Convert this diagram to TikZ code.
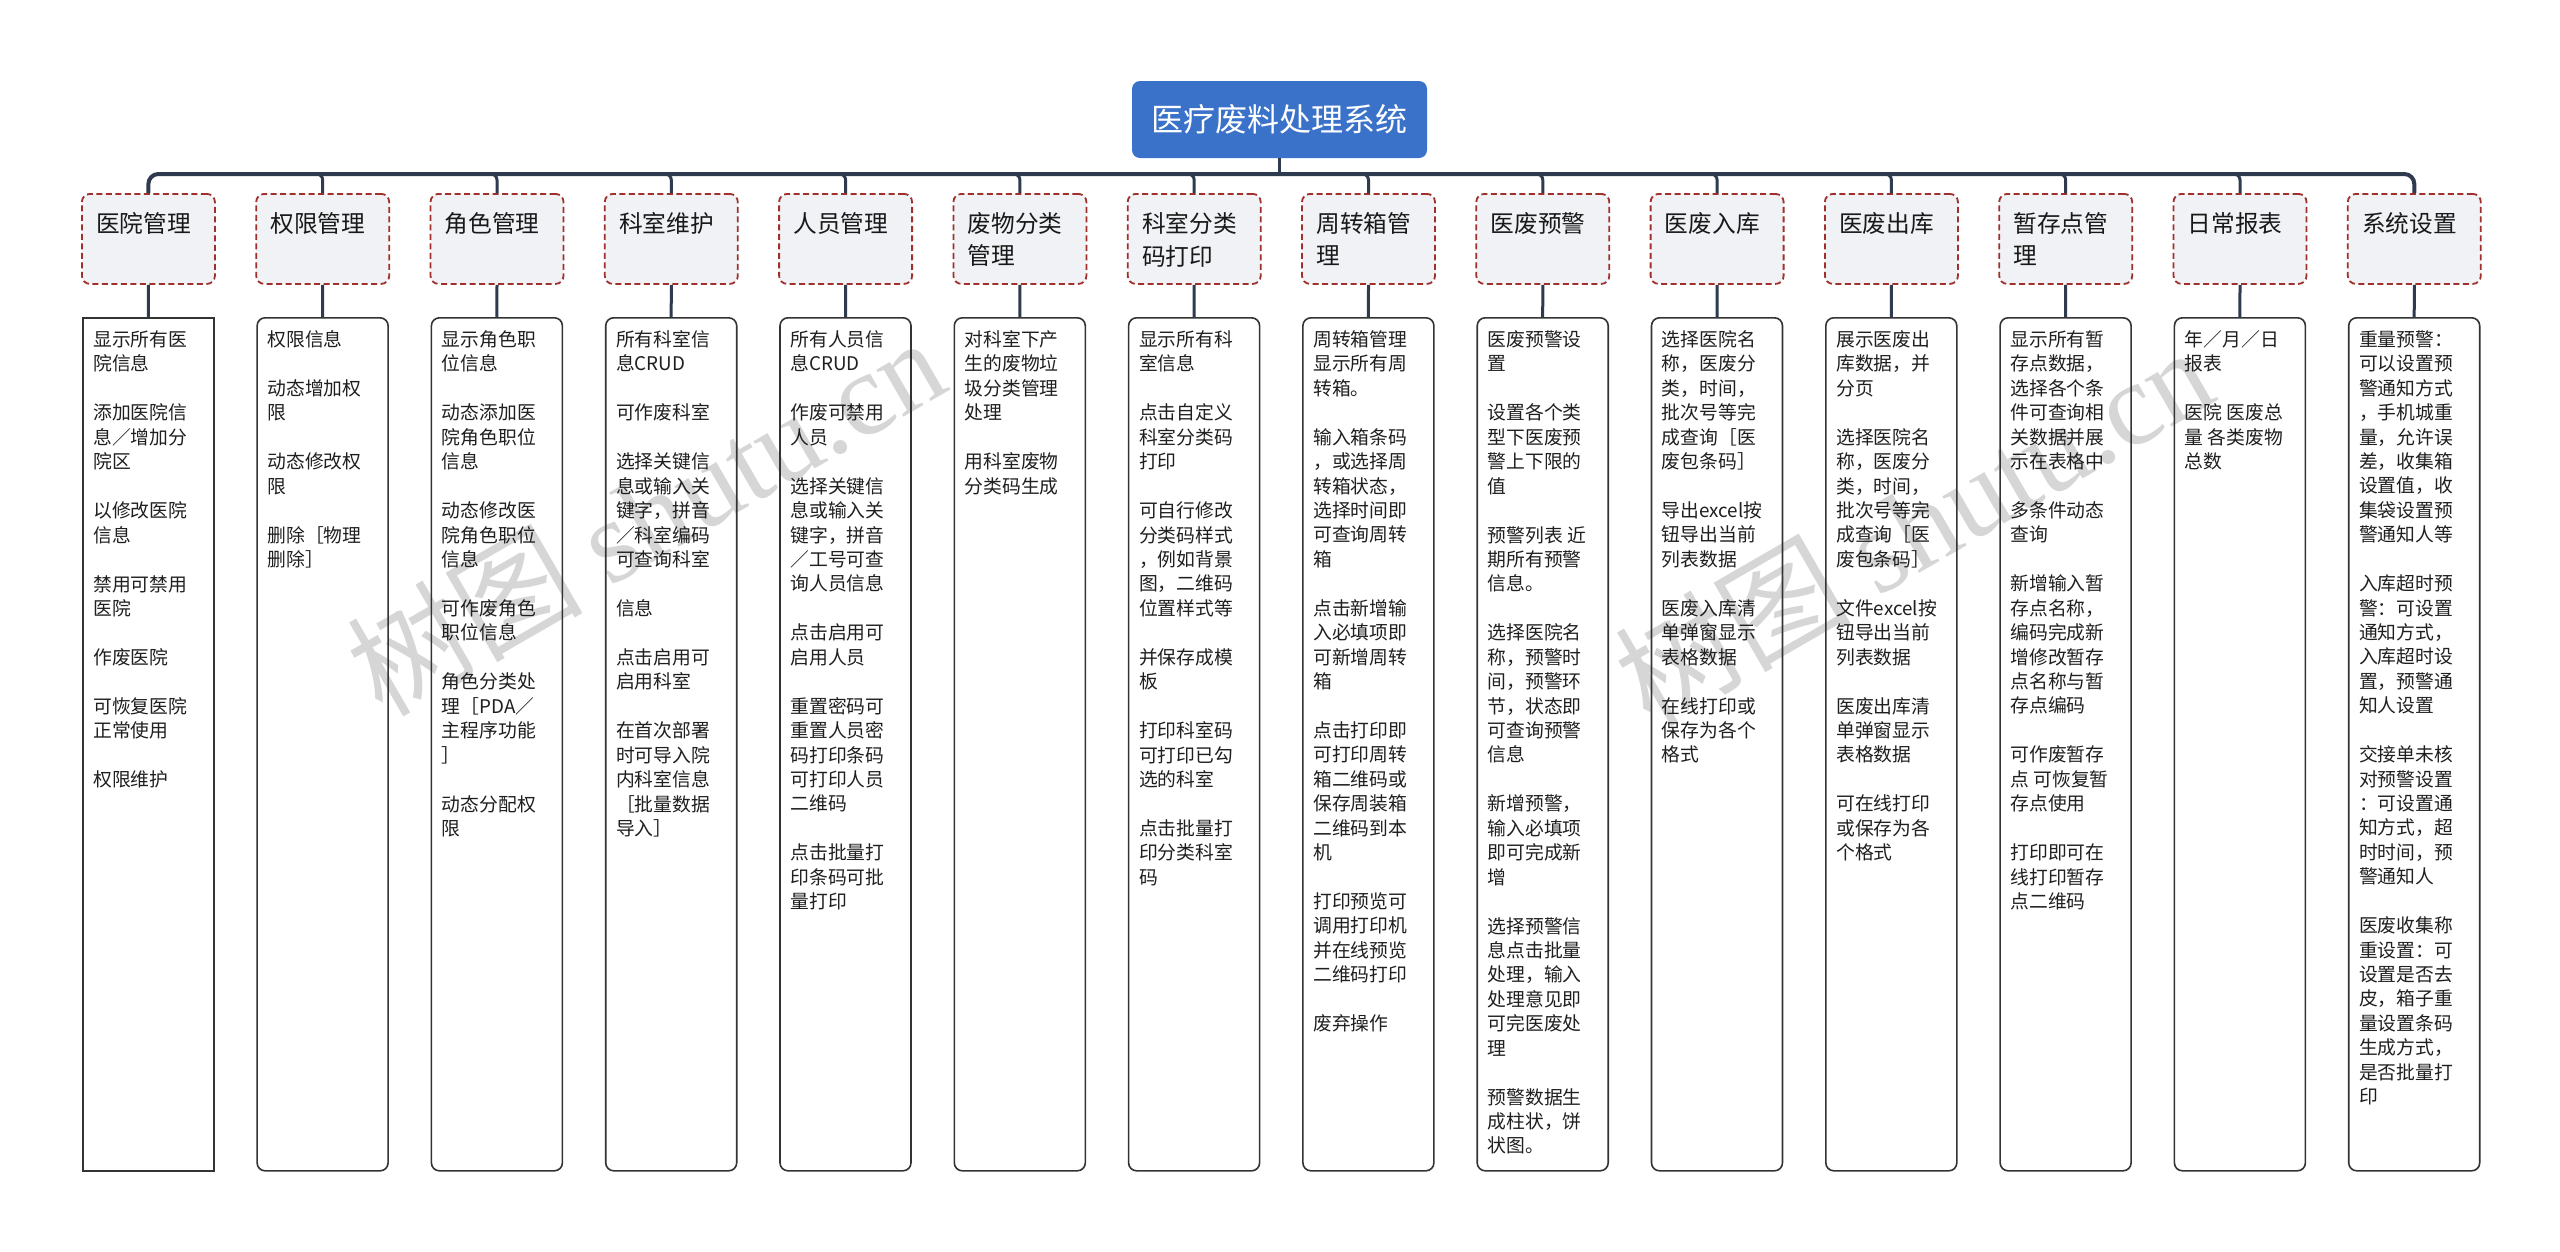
\documentclass[tikz,border=0pt]{standalone}
\usepackage{fontspec}
\setmainfont{Noto Sans CJK SC}
\newfontfamily\wmfont{Liberation Serif}
\usetikzlibrary{calc}
\definecolor{titleblue}{HTML}{3A72C9}
\definecolor{connc}{HTML}{2E3B4E}
\definecolor{headfill}{HTML}{F0F2F5}
\definecolor{headline}{HTML}{A0302B}
\definecolor{boxline}{HTML}{333333}
\definecolor{wmgray}{HTML}{D6D6D6}
\newcommand{\npara}{\\[24.6pt]}
\newcommand{\mkcol}[4]{%
  \pgfmathsetmacro{\colx}{82+174.3*(#1-1)}%
  \node[headbox] (h#1) at (\colx-1,193) {};
  \node[headtxt] (ht#1) at (\colx+14,212.2) {#2};
  \node[bodybox,#4] (b#1) at (\colx,317) {};
  \node[bodytxt] (bt#1) at (\colx+11,330.4) {#3};
  \draw[conn] (h#1.south) -- (b#1.north);
}
\tikzset{
 titlebox/.style={fill=titleblue, rounded corners=8pt, text=white, font=\fontsize{32}{38}\selectfont, minimum width=295pt, minimum height=77pt, inner sep=0pt},
 headbox/.style={anchor=north west, draw=headline, dash pattern=on 6pt off 3.5pt, line width=1.8pt, fill=headfill, rounded corners=8pt, minimum width=133pt, minimum height=90pt, inner sep=0pt},
 headtxt/.style={anchor=north west, inner sep=0pt, align=left, font=\fontsize{23.7}{32.5}\selectfont, text=black!90},
 bodybox/.style={anchor=north west, draw=boxline, line width=1.6pt, rounded corners=8pt, minimum width=131pt, minimum height=853pt, inner sep=0pt},
 bodytxt/.style={anchor=north west, inner sep=0pt, align=left, font=\fontsize{18.8}{24.4}\selectfont, text=black!88},
 conn/.style={draw=connc, line width=3pt},
 busline/.style={draw=connc, line width=4pt, rounded corners=10pt},
 wm/.style={text=wmgray, font=\fontsize{118}{118}\selectfont, rotate=30, inner sep=0pt},
}
\begin{document}
\begin{tikzpicture}[x=1pt,y=-1pt]
\fill[white] (0,0) rectangle (2560,1251);
\useasboundingbox (0,0) rectangle (2560,1251);
\node[wm] (wm1) at (645,515) {树图 {\wmfont shutu.cn}};
\node[wm] (wm2) at (1913,525) {树图 {\wmfont shutu.cn}};

\node[titlebox] (title) at (1279.5,119.5) {医疗废料处理系统};

\mkcol{1}{医院管理}{显示所有医\\院信息\npara
添加医院信\\息／增加分\\院区\npara
以修改医院\\信息\npara
禁用可禁用\\医院\npara
作废医院\npara
可恢复医院\\正常使用\npara
权限维护}{sharp corners}

\mkcol{2}{权限管理}{权限信息\npara
动态增加权\\限\npara
动态修改权\\限\npara
删除［物理\\删除］}{}

\mkcol{3}{角色管理}{显示角色职\\位信息\npara
动态添加医\\院角色职位\\信息\npara
动态修改医\\院角色职位\\信息\npara
可作废角色\\职位信息\npara
角色分类处\\理［PDA／\\主程序功能\\］\npara
动态分配权\\限}{}

\mkcol{4}{科室维护}{所有科室信\\息CRUD\npara
可作废科室\npara
选择关键信\\息或输入关\\键字，拼音\\／科室编码\\可查询科室\npara
信息\npara
点击启用可\\启用科室\npara
在首次部署\\时可导入院\\内科室信息\\［批量数据\\导入］}{}

\mkcol{5}{人员管理}{所有人员信\\息CRUD\npara
作废可禁用\\人员\npara
选择关键信\\息或输入关\\键字，拼音\\／工号可查\\询人员信息\npara
点击启用可\\启用人员\npara
重置密码可\\重置人员密\\码打印条码\\可打印人员\\二维码\npara
点击批量打\\印条码可批\\量打印}{}

\mkcol{6}{废物分类\\管理}{对科室下产\\生的废物垃\\圾分类管理\\处理\npara
用科室废物\\分类码生成}{}

\mkcol{7}{科室分类\\码打印}{显示所有科\\室信息\npara
点击自定义\\科室分类码\\打印\npara
可自行修改\\分类码样式\\，例如背景\\图，二维码\\位置样式等\npara
并保存成模\\板\npara
打印科室码\\可打印已勾\\选的科室\npara
点击批量打\\印分类科室\\码}{}

\mkcol{8}{周转箱管\\理}{周转箱管理\\显示所有周\\转箱。\npara
输入箱条码\\，或选择周\\转箱状态，\\选择时间即\\可查询周转\\箱\npara
点击新增输\\入必填项即\\可新增周转\\箱\npara
点击打印即\\可打印周转\\箱二维码或\\保存周装箱\\二维码到本\\机\npara
打印预览可\\调用打印机\\并在线预览\\二维码打印\npara
废弃操作}{}

\mkcol{9}{医废预警}{医废预警设\\置\npara
设置各个类\\型下医废预\\警上下限的\\值\npara
预警列表 近\\期所有预警\\信息。\npara
选择医院名\\称，预警时\\间，预警环\\节，状态即\\可查询预警\\信息\npara
新增预警，\\输入必填项\\即可完成新\\增\npara
选择预警信\\息点击批量\\处理，输入\\处理意见即\\可完医废处\\理\npara
预警数据生\\成柱状，饼\\状图。}{}

\mkcol{10}{医废入库}{选择医院名\\称，医废分\\类，时间，\\批次号等完\\成查询［医\\废包条码］\npara
导出excel按\\钮导出当前\\列表数据\npara
医废入库清\\单弹窗显示\\表格数据\npara
在线打印或\\保存为各个\\格式}{}

\mkcol{11}{医废出库}{展示医废出\\库数据，并\\分页\npara
选择医院名\\称，医废分\\类，时间，\\批次号等完\\成查询［医\\废包条码］\npara
文件excel按\\钮导出当前\\列表数据\npara
医废出库清\\单弹窗显示\\表格数据\npara
可在线打印\\或保存为各\\个格式}{}

\mkcol{12}{暂存点管\\理}{显示所有暂\\存点数据，\\选择各个条\\件可查询相\\关数据并展\\示在表格中\npara
多条件动态\\查询\npara
新增输入暂\\存点名称，\\编码完成新\\增修改暂存\\点名称与暂\\存点编码\npara
可作废暂存\\点 可恢复暂\\存点使用\npara
打印即可在\\线打印暂存\\点二维码}{}

\mkcol{13}{日常报表}{年／月／日\\报表\npara
医院 医废总\\量 各类废物\\总数}{}

\mkcol{14}{系统设置}{重量预警：\\可以设置预\\警通知方式\\，手机城重\\量，允许误\\差，收集箱\\设置值，收\\集袋设置预\\警通知人等\npara
入库超时预\\警：可设置\\通知方式，\\入库超时设\\置，预警通\\知人设置\npara
交接单未核\\对预警设置\\：可设置通\\知方式，超\\时时间，预\\警通知人\npara
医废收集称\\重设置：可\\设置是否去\\皮，箱子重\\量设置条码\\生成方式，\\是否批量打\\印}{}

\coordinate (busy) at (0,174);
\draw[conn] (title.south) -- (title.south |- busy);
\draw[busline] (h1.north) -- (h1.north |- busy) -- (h14.north |- busy) -- (h14.north);
\foreach \i in {2,...,13} {
  \draw[conn, rounded corners=6pt] ($(h\i.north |- busy)+(-12,0)$) -- (h\i.north |- busy) -- (h\i.north);
}
\end{tikzpicture}
\end{document}
